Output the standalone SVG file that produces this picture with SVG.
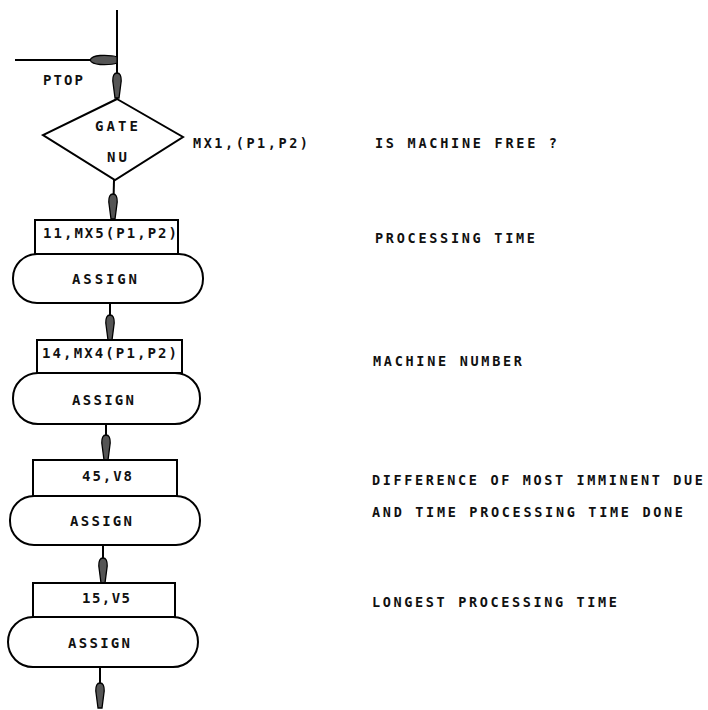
<svg xmlns="http://www.w3.org/2000/svg" width="708" height="710" viewBox="0 0 708 710">
<defs>
<style>
.ln{stroke:#000;stroke-width:2;fill:none}
.sh{stroke:#000;stroke-width:2;fill:#fff}
.t{font-family:"DejaVu Sans Mono","Liberation Mono",monospace;font-weight:bold;font-size:14px;fill:#111}
.n{font-family:"DejaVu Sans Mono","Liberation Mono",monospace;font-size:13.5px;fill:#111;font-weight:bold}
</style>
<path id="ah" d="M-2,0 L-4.2,-17 Q-4.4,-25 0,-25 Q4.4,-25 4.2,-17 L2,0 Z" fill="#555" stroke="#000" stroke-width="1.3"/>
</defs>
<g id="connectors">
<line class="ln" x1="117" y1="10" x2="117" y2="99"/>
<line class="ln" x1="15" y1="60" x2="117" y2="60"/>
<path d="M90,60 Q92,56 100,55.5 Q112,55 117,57 L117,63 Q112,65 100,64.5 Q92,64 90,60 Z" fill="#555" stroke="#000" stroke-width="1.3"/>
<use href="#ah" x="117" y="98"/>
<line class="ln" x1="114" y1="180" x2="113" y2="220"/>
<use href="#ah" x="113" y="219"/>
<line class="ln" x1="110" y1="303" x2="110" y2="340"/>
<use href="#ah" x="110" y="340"/>
<line class="ln" x1="106" y1="424" x2="106" y2="460"/>
<use href="#ah" x="106" y="460"/>
<line class="ln" x1="103" y1="545" x2="103" y2="583"/>
<use href="#ah" x="103" y="583"/>
<line class="ln" x1="100" y1="667" x2="100" y2="690"/>
<use href="#ah" x="100" y="708"/>
</g>
<g id="ptop"><text class="t" x="43" y="85" textLength="40">PTOP</text></g>
<g id="gate">
<polygon class="sh" points="117,99 183,137 115,180 43,135"/>
<text class="t" x="95" y="131" textLength="43">GATE</text>
<text class="t" x="107" y="162" textLength="20">NU</text>
<text class="n" x="193" y="148" textLength="115">MX1,(P1,P2)</text>
</g>
<g id="assign1">
<rect class="sh" x="35" y="220" width="143" height="34"/>
<text class="t" x="43" y="238" textLength="134">11,MX5(P1,P2)</text>
<rect class="sh" x="13" y="254" width="190" height="49" rx="24"/>
<text class="t" x="72" y="284" textLength="65">ASSIGN</text>
</g>
<g id="assign2">
<rect class="sh" x="37" y="340" width="145" height="33"/>
<text class="t" x="42" y="358" textLength="135">14,MX4(P1,P2)</text>
<rect class="sh" x="13" y="373" width="187" height="51" rx="25"/>
<text class="t" x="72" y="405" textLength="62">ASSIGN</text>
</g>
<g id="assign3">
<rect class="sh" x="33" y="460" width="144" height="36"/>
<text class="t" x="82" y="481" textLength="50">45,V8</text>
<rect class="sh" x="10" y="496" width="190" height="49" rx="24"/>
<text class="t" x="70" y="526" textLength="62">ASSIGN</text>
</g>
<g id="assign4">
<rect class="sh" x="33" y="583" width="142" height="34"/>
<text class="t" x="82" y="603" textLength="48">15,V5</text>
<rect class="sh" x="8" y="617" width="190" height="50" rx="25"/>
<text class="t" x="68" y="648" textLength="62">ASSIGN</text>
</g>
<g id="notes">
<text class="n" x="375" y="148" textLength="182">IS MACHINE FREE ?</text>
<text class="n" x="375" y="243" textLength="160">PROCESSING TIME</text>
<text class="n" x="373" y="366" textLength="149">MACHINE NUMBER</text>
<text class="n" x="372" y="485" textLength="331">DIFFERENCE OF MOST IMMINENT DUE</text>
<text class="n" x="372" y="517" textLength="311">AND TIME PROCESSING TIME DONE</text>
<text class="n" x="372" y="607" textLength="245">LONGEST PROCESSING TIME</text>
</g>
</svg>
